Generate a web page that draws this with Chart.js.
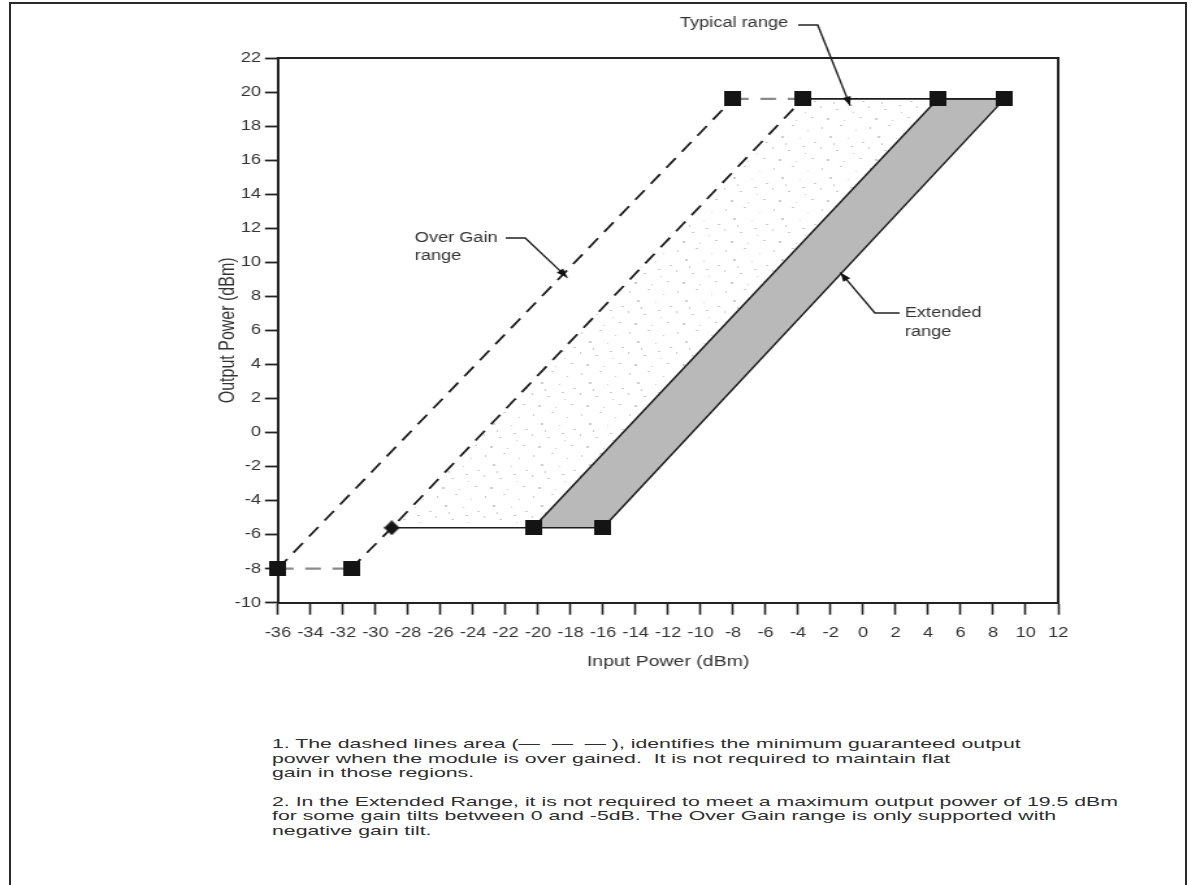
<!DOCTYPE html>
<html lang="en">
<head>
<meta charset="UTF-8">
<title>Output Power vs Input Power</title>
<script src="https://cdn.jsdelivr.net/npm/chart.js@4.4.0/dist/chart.umd.min.js"></script>
<style>
  body { margin: 0; background: #fff; width: 1195px; height: 885px; overflow: hidden;
         font-family: "Liberation Sans", Arial, sans-serif; color: #333; }
  .frame { position: absolute; left: 9px; top: 2px; width: 1174px; height: 900px;
           border: 2px solid #2a2a2a; border-bottom: none; }
  /* the source scan is stretched sideways, so the chart is drawn narrow and widened */
  .stretch { position: absolute; left: 0; top: 0; width: 920px; height: 700px;
             transform: scaleX(1.3); transform-origin: 0 0; }
  .notes { position: absolute; left: 272px; top: 737px; font-size: 13px; line-height: 14.5px;
           white-space: nowrap; transform-origin: 0 0; color: #2e2e2e; }
  .notes p { margin: 0 0 14px 0; }
</style>
</head>
<body>
<div class="frame"></div>
<div class="stretch"><canvas id="powerChart"></canvas></div>
<div class="notes" id="notes">
  <p>1. The dashed lines area (— &nbsp;— &nbsp;— ), identifies the minimum guaranteed output<br>
  power when the module is over gained.&nbsp; It is not required to maintain flat<br>
  gain in those regions.</p>
  <p>2. In the Extended Range, it is not required to meet a maximum output power of 19.5 dBm<br>
  for some gain tilts between 0 and -5dB. The Over Gain range is only supported with<br>
  negative gain tilt.</p>
</div>
<script>
// axis ranges
var xMin = -36, xMax = 12, xStep = 2;
var yMin = -10, yMax = 22, yStep = 2;

// over gain (dashed) boundaries
var overOuterX = [-36, -8];
var overOuterY = [-8, 19.6];
var overInnerX = [-31.5, -29, -3.7];
var overInnerY = [-8, -5.6, 19.6];
// grey dashed joins between the end markers
var lowJoinX = [-36, -31.5];
var lowJoinY = [-8, -8];
var highJoinX = [-8, -3.7];
var highJoinY = [19.6, 19.6];

// typical range (stippled) and extended range (grey)
var typicalX = [-29, -3.7, 4.6, -20.3];
var typicalY = [-5.6, 19.6, 19.6, -5.6];
var extendedX = [-20.3, 4.6, 8.7, -16];
var extendedY = [-5.6, 19.6, 19.6, -5.6];
var bottomEdgeX = [-29, -16];
var bottomEdgeY = [-5.6, -5.6];
var topEdgeX = [-3.7, 8.7];
var topEdgeY = [19.6, 19.6];

// markers
var squareX = [-36, -31.5, -20.3, -16, -8, -3.7, 4.6, 8.7];
var squareY = [-8, -8, -5.6, -5.6, 19.6, 19.6, 19.6, 19.6];
var diamondX = [-29];
var diamondY = [-5.6];

// callouts: text and where the arrow points
var calloutText = [['Typical range'], ['Over Gain', 'range'], ['Extended', 'range']];
var calloutTipX = [-0.8, -18.2, -1.4];
var calloutTipY = [19.2, 9.1, 9.4];

function pts(xs, ys) {
    return xs.map(function(x, i) { return { x: x, y: ys[i] }; });
}

// callout layout (canvas px, before the sideways stretch)
var calloutPos = [
    { tx: 523, ty: [23], lead: [[614, 25], [629, 25]] },
    { tx: 319, ty: [238, 256], lead: [[389, 238], [404, 238]] },
    { tx: 696, ty: [313, 332], lead: [[692, 313], [673, 313]] }
];

function makeSquare() {
    var c = document.createElement('canvas');
    c.width = 13; c.height = 15;
    var g = c.getContext('2d');
    g.fillStyle = '#141414';
    g.fillRect(0, 0, 13, 15);
    return c;
}
function makeDiamond() {
    var c = document.createElement('canvas');
    c.width = 12; c.height = 15;
    var g = c.getContext('2d');
    g.fillStyle = '#141414';
    g.beginPath();
    g.moveTo(6, 0); g.lineTo(12, 7.5); g.lineTo(6, 15); g.lineTo(0, 7.5);
    g.closePath(); g.fill();
    return c;
}
function makeStipple() {
    var c = document.createElement('canvas');
    c.width = 37; c.height = 41;
    var g = c.getContext('2d');
    g.fillStyle = '#ffffff';
    g.fillRect(0, 0, 37, 41);
    g.fillStyle = '#cdcdcd';
    [[3, 4], [17, 2], [29, 7], [9, 13], [23, 15], [34, 19], [2, 24], [14, 27],
     [27, 30], [7, 36], [20, 38], [32, 35], [12, 20], [25, 23]].forEach(function(p, i) {
        g.fillRect(p[0], p[1], i % 2 ? 2 : 1, i % 3 ? 1 : 2);
    });
    return g.createPattern(c, 'repeat');
}

var calloutPlugin = {
    id: 'callouts',
    afterDatasetsDraw: function(chart) {
        var ctx = chart.ctx, xs = chart.scales.x, ys = chart.scales.y, a = chart.chartArea;
        ctx.save();
        // box round the plot
        ctx.strokeStyle = '#222';
        ctx.lineWidth = 2;
        ctx.beginPath();
        ctx.moveTo(a.left, a.top); ctx.lineTo(a.right, a.top); ctx.lineTo(a.right, a.bottom);
        ctx.stroke();

        ctx.font = '14px "Liberation Sans", Arial, sans-serif';
        ctx.textBaseline = 'middle';
        ctx.fillStyle = '#333';
        calloutText.forEach(function(lines, i) {
            var p = calloutPos[i];
            lines.forEach(function(t, j) { ctx.fillText(t, p.tx, p.ty[j]); });
            var tip = [xs.getPixelForValue(calloutTipX[i]), ys.getPixelForValue(calloutTipY[i])];
            var path = p.lead.concat([tip]);
            ctx.strokeStyle = '#222';
            ctx.lineWidth = 1.4;
            ctx.beginPath();
            ctx.moveTo(path[0][0], path[0][1]);
            for (var k = 1; k < path.length; k++) ctx.lineTo(path[k][0], path[k][1]);
            ctx.stroke();
            // arrow head
            var prev = path[path.length - 2];
            var ang = Math.atan2(tip[1] - prev[1], tip[0] - prev[0]);
            ctx.fillStyle = '#111';
            ctx.beginPath();
            ctx.moveTo(tip[0], tip[1]);
            ctx.lineTo(tip[0] - 9 * Math.cos(ang) + 3.2 * Math.sin(ang), tip[1] - 9 * Math.sin(ang) - 3.2 * Math.cos(ang));
            ctx.lineTo(tip[0] - 9 * Math.cos(ang) - 3.2 * Math.sin(ang), tip[1] - 9 * Math.sin(ang) + 3.2 * Math.cos(ang));
            ctx.closePath();
            ctx.fill();
            ctx.fillStyle = '#333';
        });
        ctx.restore();
    }
};

Chart.defaults.font.family = '"Liberation Sans", Arial, sans-serif';
Chart.defaults.color = '#333';

var lineBase = { showLine: true, pointRadius: 0, tension: 0, fill: false };

var ctx = document.getElementById('powerChart').getContext('2d');
var powerChart = new Chart(ctx, {
    type: 'scatter',
    data: {
        datasets: [
            { label: 'Squares', data: pts(squareX, squareY), pointStyle: makeSquare(), pointRadius: 7, clip: false, order: 0 },
            { label: 'Diamond', data: pts(diamondX, diamondY), pointStyle: makeDiamond(), pointRadius: 6, clip: false, order: 0 },
            Object.assign({ label: 'Over gain outer', data: pts(overOuterX, overOuterY), borderColor: '#1e1e1e',
                borderWidth: 1.8, borderDash: [12, 8], order: 1 }, lineBase),
            Object.assign({ label: 'Over gain inner', data: pts(overInnerX, overInnerY), borderColor: '#1e1e1e',
                borderWidth: 1.8, borderDash: [12, 8], order: 1 }, lineBase),
            Object.assign({ label: 'Low join', data: pts(lowJoinX, lowJoinY), borderColor: '#8a8a8a',
                borderWidth: 2.2, borderDash: [12, 9], order: 1 }, lineBase),
            Object.assign({ label: 'High join', data: pts(highJoinX, highJoinY), borderColor: '#8a8a8a',
                borderWidth: 2.2, borderDash: [12, 9], order: 1 }, lineBase),
            Object.assign({ label: 'Bottom edge', data: pts(bottomEdgeX, bottomEdgeY), borderColor: '#1e1e1e',
                borderWidth: 1.6, order: 1 }, lineBase),
            Object.assign({ label: 'Top edge', data: pts(topEdgeX, topEdgeY), borderColor: '#1e1e1e',
                borderWidth: 1.6, order: 1 }, lineBase),
            Object.assign({}, lineBase, { label: 'Extended range', data: pts(extendedX, extendedY),
                borderColor: '#1e1e1e', borderWidth: 1.5, backgroundColor: '#b9b9b9', fill: 'shape', order: 2 }),
            Object.assign({}, lineBase, { label: 'Typical range', data: pts(typicalX, typicalY),
                borderWidth: 0, borderColor: 'rgba(0,0,0,0)', backgroundColor: makeStipple(), fill: 'shape', order: 3 })
        ]
    },
    options: {
        responsive: true,
        maintainAspectRatio: false,
        animation: false,
        layout: { padding: { left: 163, right: 106, top: 58, bottom: 26.8 } },
        plugins: { legend: { display: false }, tooltip: { enabled: false } },
        scales: {
            x: {
                type: 'linear', min: xMin, max: xMax,
                ticks: { stepSize: xStep, autoSkip: false, maxRotation: 0, padding: 10, color: '#333', font: { size: 14 } },
                grid: { drawOnChartArea: false, drawTicks: true, tickLength: 12, tickColor: '#222', tickWidth: 1.6 },
                border: { color: '#222', width: 2 },
                title: { display: true, text: 'Input Power (dBm)', color: '#333', font: { size: 15 }, padding: { top: 4, bottom: 2 } },
                afterFit: function(s) { s.height = 70.5; }
            },
            y: {
                type: 'linear', min: yMin, max: yMax,
                ticks: { stepSize: yStep, padding: 3, color: '#333', font: { size: 14 } },
                grid: { drawOnChartArea: false, drawTicks: true, tickLength: 10, tickColor: '#222', tickWidth: 1.8 },
                border: { color: '#222', width: 2 },
                title: { display: true, text: 'Output Power (dBm)', color: '#333', font: { size: 16 }, padding: { top: 3, bottom: 4 } },
                afterFit: function(s) { s.width = 50.8; }
            }
        }
    },
    plugins: [calloutPlugin]
});

// widen the footnotes the same way the scan is widened
var notes = document.getElementById('notes');
var probe = document.createElement('span');
probe.style.font = '13px "Liberation Sans", Arial, sans-serif';
probe.style.whiteSpace = 'nowrap';
probe.textContent = '2. In the Extended Range, it is not required to meet a maximum output power of 19.5 dBm';
document.body.appendChild(probe);
var w = probe.getBoundingClientRect().width;
document.body.removeChild(probe);
notes.style.transform = 'scaleX(' + (846 / w).toFixed(3) + ')';
</script>
</body>
</html>
